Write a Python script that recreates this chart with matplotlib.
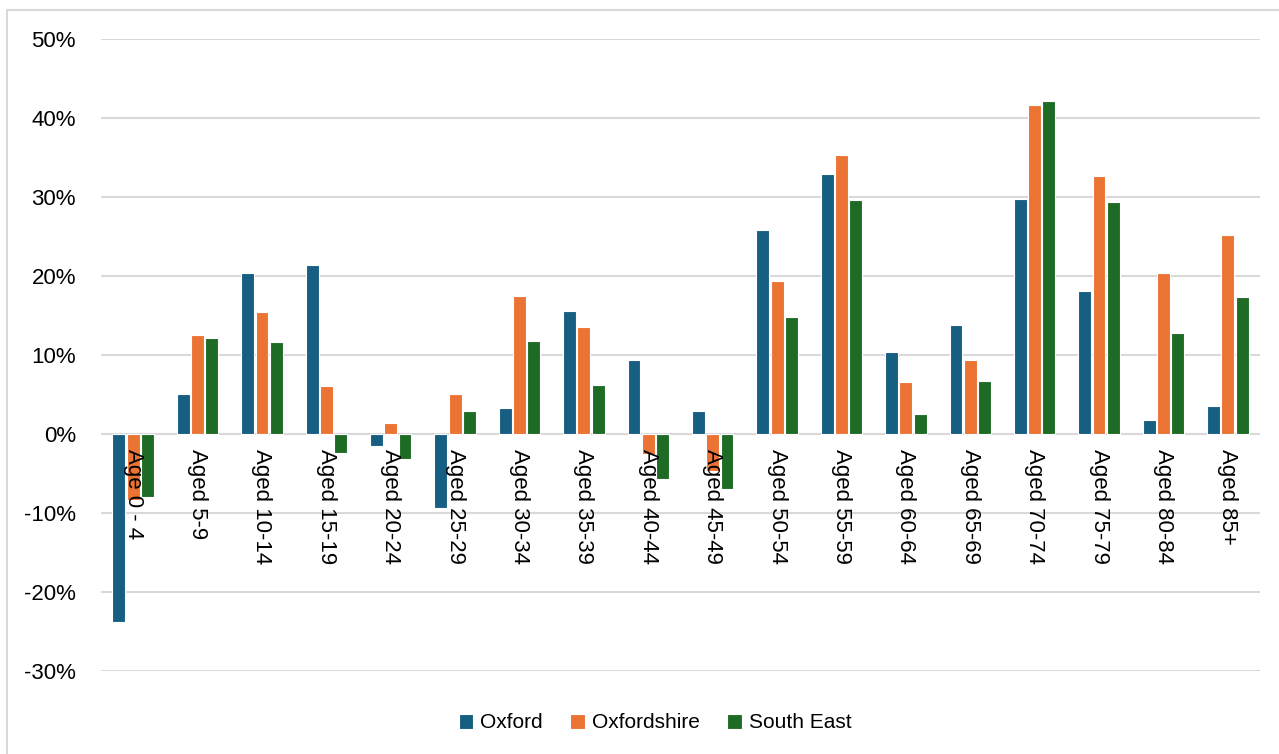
import numpy as np
import matplotlib
matplotlib.use('Agg')
import matplotlib.pyplot as plt
from matplotlib.patches import Rectangle
from matplotlib.ticker import FuncFormatter

plt.rcParams['font.family'] = ['Liberation Sans', 'DejaVu Sans']

# Data: percentage change by age group
age_groups = ['Age 0 - 4', 'Aged 5-9', 'Aged 10-14', 'Aged 15-19', 'Aged 20-24',
              'Aged 25-29', 'Aged 30-34', 'Aged 35-39', 'Aged 40-44', 'Aged 45-49',
              'Aged 50-54', 'Aged 55-59', 'Aged 60-64', 'Aged 65-69', 'Aged 70-74',
              'Aged 75-79', 'Aged 80-84', 'Aged 85+']
oxford = [-23.8, 5.1, 20.4, 21.4, -1.5, -9.4, 3.3, 15.6, 9.4, 2.9,
          25.8, 32.9, 10.4, 13.8, 29.7, 18.1, 1.8, 3.5]
oxfordshire = [-8.3, 12.5, 15.5, 6.1, 1.4, 5.1, 17.5, 13.5, -2.5, -4.7,
               19.4, 35.3, 6.6, 9.4, 41.6, 32.7, 20.4, 25.2]
south_east = [-8.0, 12.1, 11.6, -2.4, -3.2, 2.9, 11.8, 6.2, -5.7, -6.9,
              14.8, 29.6, 2.5, 6.7, 42.2, 29.4, 12.8, 17.3]

series = [('Oxford', oxford, '#175F82'),
          ('Oxfordshire', oxfordshire, '#EB7434'),
          ('South East', south_east, '#1E6B26')]

fig = plt.figure(figsize=(12.79, 7.54), dpi=100)
ax = fig.add_axes([101 / 1279, 1 - 671 / 754, (1260 - 101) / 1279, (671 - 39) / 754])

x = np.arange(len(age_groups))
offset = 0.222
for i, (name, vals, color) in enumerate(series):
    ax.bar(x + (i - 1) * offset, vals, width=0.2, color=color,
           edgecolor='white', linewidth=0.8, label=name, zorder=2)

ax.set_xlim(-0.5, len(age_groups) - 0.5)
ax.set_ylim(-30, 50)
ax.set_yticks(range(-30, 51, 10))
ax.yaxis.set_major_formatter(FuncFormatter(lambda v, p: f'{v:.0f}%'))
ax.tick_params(axis='y', length=0, labelsize=16, pad=18)
ax.set_xticks([])
ax.grid(axis='y', color='#D9D9D9', linewidth=1.5, zorder=0)
ax.set_axisbelow(True)
for s in ax.spines.values():
    s.set_visible(False)

# category labels hanging below the zero line
for xi, lab in zip(x, age_groups):
    ax.annotate(lab, (xi, 0), xytext=(0, -11), textcoords='offset points',
                rotation=270, ha='center', va='top', fontsize=16, zorder=5)

fig.legend(loc='center', bbox_to_anchor=(655 / 1279, 1 - 723 / 754), ncol=3,
           frameon=False, fontsize=15, handlelength=0.7, handleheight=0.7,
           handletextpad=0.35, columnspacing=1.3)

# outer chart frame
fig.patches.append(Rectangle((7 / 1279, -0.1), 1.1, 1 - 10 / 754 + 0.1,
                             transform=fig.transFigure, fill=False,
                             edgecolor='#D9D9D9', linewidth=1.5))

fig.savefig('out.png', dpi=100)
